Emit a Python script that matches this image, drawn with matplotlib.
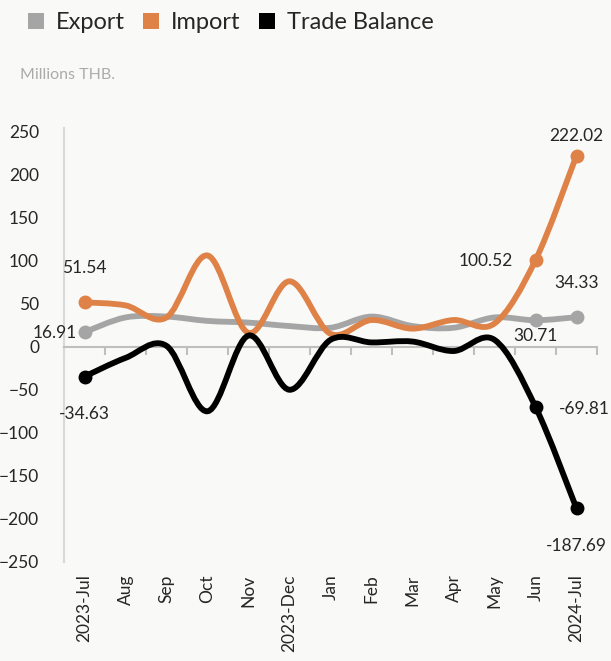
import numpy as np
import matplotlib
matplotlib.use("Agg")
import matplotlib.pyplot as plt
from matplotlib.path import Path
from matplotlib.patches import PathPatch
from matplotlib.lines import Line2D

plt.rcParams['font.family'] = ['Lato', 'DejaVu Sans']

months = ["2023-Jul", "Aug", "Sep", "Oct", "Nov", "2023-Dec", "Jan", "Feb",
          "Mar", "Apr", "May", "Jun", "2024-Jul"]
export_vals = [16.91, 34, 35, 30, 28, 24, 22, 35, 24, 22, 34, 30.71, 34.33]
import_vals = [51.54, 48, 34, 106, 16, 76, 15, 31, 21, 31, 27, 100.52, 222.02]
balance_vals = [-34.63, -13, 1, -75, 13, -50, 8, 5, 6, -5, 8, -69.81, -187.69]

series_names = ["Export", "Import", "Trade Balance"]
colors = ["#A5A5A5", "#DF8248", "#000000"]
bg = "#F9F9F7"

fig = plt.figure(figsize=(6.11, 6.61), dpi=100, facecolor=bg)
ax = fig.add_axes([64/611, 1-562/661, 533/611, 434/661], facecolor=bg)

x = np.arange(len(months))


def smooth_path(xs, ys):
    xs = np.asarray(xs, float)
    ys = np.asarray(ys, float)
    n = len(xs)
    verts = [(xs[0], ys[0])]
    codes = [Path.MOVETO]
    for i in range(n - 1):
        p0 = (xs[max(i-1, 0)], ys[max(i-1, 0)])
        p1 = (xs[i], ys[i])
        p2 = (xs[i+1], ys[i+1])
        p3 = (xs[min(i+2, n-1)], ys[min(i+2, n-1)])
        c1 = (p1[0] + (p2[0]-p0[0])/6, p1[1] + (p2[1]-p0[1])/6)
        c2 = (p2[0] - (p3[0]-p1[0])/6, p2[1] - (p3[1]-p1[1])/6)
        verts += [c1, c2, p2]
        codes += [Path.CURVE4]*3
    return Path(verts, codes)


all_vals = [export_vals, import_vals, balance_vals]
for vals, c in zip(all_vals, colors):
    patch = PathPatch(smooth_path(x, vals), facecolor='none', edgecolor=c,
                      lw=4.2, capstyle='round', joinstyle='round', zorder=3)
    ax.add_patch(patch)
    idx = [0, len(x)-2, len(x)-1]
    ax.plot(x[idx], np.asarray(vals)[idx], 'o', color=c, ms=9, zorder=4)

fs = 12.5
def lab(i, vals, dx, dy, ha, va='center'):
    ax.annotate(f"{vals[i]:.2f}", (x[i], vals[i]), xytext=(dx, dy),
                textcoords='offset pixels', ha=ha, va=va, fontsize=fs,
                color='#262626', zorder=5)

n = len(x)
lab(0, import_vals, 0, 34, 'center')
lab(0, export_vals, -8, -1, 'right')
lab(0, balance_vals, 0, -37, 'center')
lab(n-2, import_vals, -23, -1, 'right')
lab(n-2, export_vals, 0, -16, 'center')
lab(n-2, balance_vals, 23, -2, 'left')
lab(n-1, import_vals, 0, 20, 'center')
lab(n-1, export_vals, 0, 34, 'center')
lab(n-1, balance_vals, 0, -38, 'center')

ax.set_xlim(-0.5, len(months)-0.5)
ax.set_ylim(-250, 254)
ax.set_yticks(np.arange(-250, 251, 50))
ax.tick_params(axis='y', length=0, pad=18, labelsize=fs, labelcolor='#262626')
for lbl in ax.get_yticklabels():
    lbl.set_horizontalalignment('right')

for s in ['top', 'right']:
    ax.spines[s].set_visible(False)
ax.spines['left'].set_color('#D9D9D9')
ax.spines['left'].set_linewidth(1.5)
ax.spines['bottom'].set_position(('data', 0))
ax.spines['bottom'].set_color('#BFBFBF')
ax.spines['bottom'].set_linewidth(1.5)
ax.set_xticks(np.arange(-0.5, len(months), 1))
ax.tick_params(axis='x', length=6, width=1.5, color='#BFBFBF', labelbottom=False,
               direction='out')

sec = ax.secondary_xaxis('bottom')
sec.set_xticks(x)
sec.set_xticklabels(months, rotation=90, fontsize=fs, color='#262626')
sec.tick_params(length=0, pad=9)
sec.spines['bottom'].set_visible(False)

handles = [Line2D([], [], marker='s', ls='none', color=c, markersize=12,
                  markeredgewidth=0) for c in colors]
fig.legend(handles, series_names, loc='upper left', bbox_to_anchor=(3/611, 1+9/661),
           ncol=3, frameon=False, fontsize=17, handletextpad=0.35,
           columnspacing=0.6, handlelength=1.0, labelcolor='#262626')

fig.text(20/611, 1-75/661, "Millions THB.", fontsize=11.5, color='#ABABAB',
         va='center', ha='left')

fig.savefig("out.png", dpi=100, facecolor=bg)
